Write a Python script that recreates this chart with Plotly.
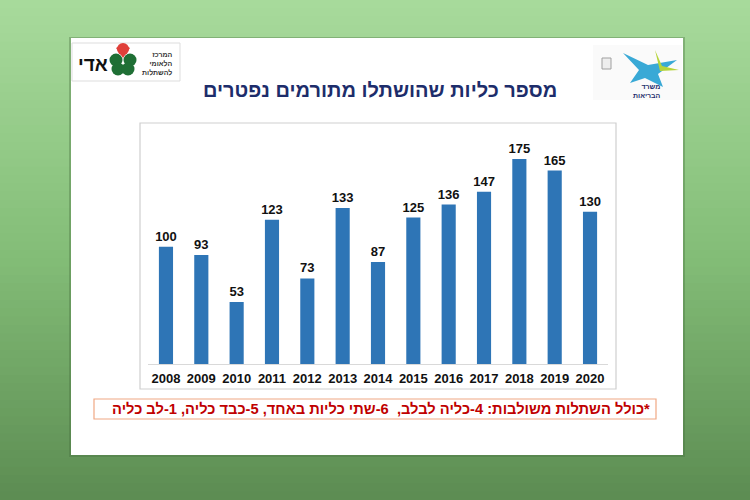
import plotly.graph_objects as go

# ---- data ----
years = ["2008", "2009", "2010", "2011", "2012", "2013", "2014",
         "2015", "2016", "2017", "2018", "2019", "2020"]
kidneys = [100, 93, 53, 123, 73, 133, 87, 125, 136, 147, 175, 165, 130]
title_text = "מספר כליות שהושתלו מתורמים נפטרים"
footnote_text = "\u200f*כולל השתלות משולבות: 4-כליה לבלב,  6-שתי כליות באחד, 5-כבד כליה, 1-לב כליה"
logo_left_name = "אדי"
logo_left_lines = ["המרכז", "הלאומי", "להשתלות"]
logo_right_lines = ["משרד", "הבריאות"]

W, H = 750, 500
FONT = "Liberation Sans, Arial, DejaVu Sans, sans-serif"


def fx(x):
    return x / W


def fy(y):
    return 1 - y / H


shapes = []

# background vertical gradient (green)
top = (168, 218, 156)
mid = (132, 190, 120)
bot = (92, 140, 82)
N = 60
for i in range(N):
    t = (i + 0.5) / N
    if t < 0.5:
        a, b, u = top, mid, t / 0.5
    else:
        a, b, u = mid, bot, (t - 0.5) / 0.5
    c = tuple(int(round(a[k] + (b[k] - a[k]) * u)) for k in range(3))
    y0 = i * H / N
    y1 = (i + 1) * H / N + 0.6
    shapes.append(dict(type="rect", xref="paper", yref="paper",
                       x0=0, x1=1, y0=fy(y1), y1=fy(y0),
                       fillcolor="rgb(%d,%d,%d)" % c, line=dict(width=0),
                       layer="below"))

# slide shadow + white slide
shapes.append(dict(type="rect", xref="paper", yref="paper",
                   x0=fx(69), x1=fx(685), y0=fy(457), y1=fy(37),
                   fillcolor="rgba(70,110,60,0.35)", line=dict(width=0), layer="below"))
shapes.append(dict(type="rect", xref="paper", yref="paper",
                   x0=fx(71), x1=fx(683), y0=fy(455), y1=fy(38),
                   fillcolor="white", line=dict(width=0), layer="below"))

# chart box
shapes.append(dict(type="rect", xref="paper", yref="paper",
                   x0=fx(140), x1=fx(616), y0=fy(389), y1=fy(123),
                   fillcolor="white", line=dict(color="#cfcfcf", width=1.2), layer="below"))

# footnote box
shapes.append(dict(type="rect", xref="paper", yref="paper",
                   x0=fx(94), x1=fx(656), y0=fy(419), y1=fy(399),
                   fillcolor="white", line=dict(color="#f0a884", width=1.2), layer="below"))

# left logo frame
shapes.append(dict(type="rect", xref="paper", yref="paper",
                   x0=fx(72), x1=fx(180), y0=fy(81), y1=fy(43),
                   fillcolor="white", line=dict(color="#dddddd", width=1), layer="below"))
# clover leaves
cx, cy = 123, 63
for dx, dy in [(-7, -3), (7, -3), (-5, 6), (5, 6)]:
    r = 6.5
    shapes.append(dict(type="circle", xref="paper", yref="paper",
                       x0=fx(cx + dx - r), x1=fx(cx + dx + r),
                       y0=fy(cy + dy + r), y1=fy(cy + dy - r),
                       fillcolor="#1f6f35", line=dict(width=0)))
# red heart
shapes.append(dict(type="path", xref="paper", yref="paper",
                   path="M %f %f L %f %f L %f %f L %f %f Z" % (
                       fx(116), fy(48), fx(123), fy(44), fx(130), fy(48), fx(123), fy(58)),
                   fillcolor="#e0403a", line=dict(width=0)))
shapes.append(dict(type="circle", xref="paper", yref="paper",
                   x0=fx(117), x1=fx(129), y0=fy(55), y1=fy(43),
                   fillcolor="#e0403a", line=dict(width=0)))

# right logo (ministry of health) background + star
shapes.append(dict(type="rect", xref="paper", yref="paper",
                   x0=fx(593), x1=fx(682), y0=fy(100), y1=fy(45),
                   fillcolor="#fafafa", line=dict(width=0), layer="below"))
# emblem
shapes.append(dict(type="rect", xref="paper", yref="paper",
                   x0=fx(602), x1=fx(611), y0=fy(69), y1=fy(58),
                   fillcolor="#eeeeee", line=dict(color="#a0a0a0", width=1)))
# star shape
star = [(623, 53), (648, 65), (677, 60), (658, 74), (663, 87), (645, 78), (630, 83), (639, 70)]
path = "M " + " L ".join("%f %f" % (fx(x), fy(y)) for x, y in star) + " Z"
shapes.append(dict(type="path", xref="paper", yref="paper", path=path,
                   fillcolor="#39a9d6", line=dict(width=0)))
green = [(655, 50), (662, 66), (679, 70), (660, 71)]
path2 = "M " + " L ".join("%f %f" % (fx(x), fy(y)) for x, y in green) + " Z"
shapes.append(dict(type="path", xref="paper", yref="paper", path=path2,
                   fillcolor="#b6d43a", line=dict(width=0)))

annotations = []
annotations.append(dict(xref="paper", yref="paper", x=fx(380), y=fy(90),
                        text="<b>" + title_text + "</b>", showarrow=False,
                        xanchor="center", yanchor="middle",
                        font=dict(family=FONT, size=20, color="#1d2d6b")))
annotations.append(dict(xref="paper", yref="paper", x=fx(381), y=fy(409),
                        text="<b>" + footnote_text + "</b>", showarrow=False,
                        xanchor="center", yanchor="middle",
                        font=dict(family=FONT, size=14.7, color="#c00000")))
annotations.append(dict(xref="paper", yref="paper", x=fx(93), y=fy(64),
                        text="<b>" + logo_left_name + "</b>", showarrow=False,
                        xanchor="center", yanchor="middle",
                        font=dict(family=FONT, size=19, color="#111111")))
annotations.append(dict(xref="paper", yref="paper", x=fx(157), y=fy(63),
                        text="<b>" + "<br>".join(logo_left_lines) + "</b>", showarrow=False,
                        xanchor="center", yanchor="middle", align="right",
                        font=dict(family=FONT, size=7, color="#333333")))
annotations.append(dict(xref="paper", yref="paper", x=fx(647), y=fy(91),
                        text="<b>" + "<br>".join(logo_right_lines) + "</b>", showarrow=False,
                        xanchor="center", yanchor="middle", align="right",
                        font=dict(family=FONT, size=7, color="#1d2d6b")))

fig = go.Figure()
fig.add_trace(go.Bar(
    x=years, y=kidneys,
    marker=dict(color="#2e75b6", line=dict(width=0)),
    text=[str(v) for v in kidneys],
    textposition="outside",
    constraintext="none",
    cliponaxis=False,
    textfont=dict(family=FONT, size=13, color="#111111", weight="bold"),
    hoverinfo="skip",
))

x0p, x1p = 148.3, 607.7
y0p, y1p = 364, 129.6
fig.update_layout(
    width=W, height=H,
    margin=dict(l=0, r=0, t=0, b=0, pad=0),
    paper_bgcolor="rgb(130,188,118)",
    plot_bgcolor="rgba(0,0,0,0)",
    showlegend=False,
    bargap=0.6,
    shapes=shapes,
    annotations=annotations,
    xaxis=dict(domain=[fx(x0p), fx(x1p)], type="category", range=[-0.5, 12.5],
               showgrid=False, zeroline=False, showline=True, linecolor="#d9d9d9",
               linewidth=1, ticks="", fixedrange=True, ticklabelstandoff=2,
               tickfont=dict(family=FONT, size=13, color="#111111", weight="bold")),
    yaxis=dict(domain=[fy(y0p), fy(y1p)], range=[0, 200], visible=False,
               fixedrange=True),
)

fig.write_html("out.html", config={"displayModeBar": False},
               post_script="document.body.style.margin='0';document.body.style.overflow='hidden';")
